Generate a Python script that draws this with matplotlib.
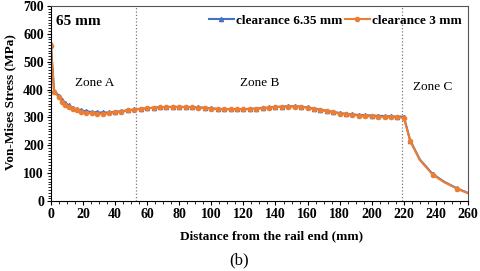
import numpy as np
import matplotlib.pyplot as plt
from matplotlib.ticker import MultipleLocator

plt.rcParams['font.family'] = ['Liberation Serif', 'DejaVu Serif']

# distance from rail end (mm)
dist = [0, 2, 5, 7, 9, 11, 13.5, 16, 19, 22, 25.5, 29, 32.5, 36, 40, 44, 48,
        52, 56, 60, 64, 68, 72, 76, 80, 84, 88, 92, 96, 100, 104, 108, 112, 116,
        120, 124, 128, 132, 136, 140, 144, 148, 152, 156, 160, 164, 168, 172, 176,
        180, 184, 188, 192, 196, 200, 204, 208, 212, 216, 220, 224, 230, 238, 245,
        253, 260]

stress_635 = [565, 395, 378, 362, 352, 343, 335, 330, 325, 322, 320, 318, 318,
              318, 320, 323, 326, 329, 331, 333, 335, 337, 338, 338, 338, 338, 337,
              336, 335, 333, 331, 330, 330, 330, 330, 331, 332, 334, 336, 338, 339,
              340, 340, 339, 336, 332, 328, 324, 320, 316, 313, 311, 309, 308, 307,
              306, 305, 304, 303, 303, 217, 149, 97, 70, 46, 29]

stress_3 = [557, 392, 372, 355, 345, 338, 330, 325, 320, 317, 315, 313, 313,
            315, 318, 321, 325, 328, 331, 333, 335, 336, 337, 337, 337, 337, 336,
            335, 334, 332, 330, 329, 329, 329, 329, 330, 331, 333, 335, 337, 338,
            339, 339, 338, 335, 331, 327, 322, 318, 314, 311, 309, 307, 305, 304,
            303, 302, 301, 300, 299, 215, 147, 95, 68, 45, 28]

# points in the tail that carry no marker
unmarked = [61, 63, 65]
marked = [i for i in range(len(dist)) if i not in unmarked]

zone_lines = [53, 219]
zone_names = ['Zone A', 'Zone B', 'Zone C']
zone_x = [27, 130, 238]
zone_y = [425, 423, 409]

fig = plt.figure(figsize=(4.8, 2.71), dpi=100)
ax = fig.add_axes([0.106, 0.258, 0.869, 0.72])

ax.plot(dist, stress_635, '-^', color='#4472C4', lw=1.5, ms=3,
        markevery=marked, label='clearance 6.35 mm')
ax.plot(dist, stress_3, '-o', color='#ED7D31', lw=1.5, ms=3,
        markevery=marked, label='clearance 3 mm')

for xv in zone_lines:
    ax.axvline(xv, color='#777777', ls=':', lw=0.9, zorder=0)
for name, zx, zy in zip(zone_names, zone_x, zone_y):
    ax.text(zx, zy, name, ha='center', va='center', fontsize=9.5)

ax.text(0.013, 0.955, '65 mm', transform=ax.transAxes, fontsize=11,
        fontweight='bold', va='top', ha='left')

ax.set_xlim(0, 260)
ax.set_ylim(0, 700)
ax.xaxis.set_major_locator(MultipleLocator(20))
ax.xaxis.set_minor_locator(MultipleLocator(5))
ax.yaxis.set_major_locator(MultipleLocator(100))
ax.yaxis.set_minor_locator(MultipleLocator(10))
ax.tick_params(which='major', length=3, labelsize=10, pad=2)
ax.tick_params(which='minor', length=2)
for lab in ax.get_xticklabels() + ax.get_yticklabels():
    lab.set_fontweight('bold')
for s in ax.spines.values():
    s.set_color('#555555')
ax.spines['left'].set_color('black')
ax.spines['bottom'].set_color('black')

ax.set_xlabel('Distance from the rail end (mm)', fontsize=9.5, fontweight='bold')
ax.xaxis.set_label_coords(0.528, -0.15)
ax.set_ylabel('Von-Mises Stress (MPa)', fontsize=9.5, fontweight='bold')
ax.yaxis.set_label_coords(-0.083, 0.51)

ax.legend(loc='upper right', ncol=2, frameon=False,
          prop={'weight': 'bold', 'size': 9.5}, handlelength=1.9,
          columnspacing=0.2, handletextpad=0.15, bbox_to_anchor=(1.0, 0.99),
          borderaxespad=0.1)

fig.text(0.498, 0.04, '(b)', ha='center', va='center', fontsize=12)

fig.savefig('out.png', dpi=100)
